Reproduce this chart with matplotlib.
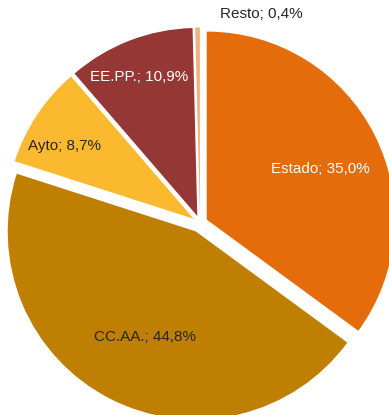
import numpy as np
import matplotlib
matplotlib.use('Agg')
import matplotlib.pyplot as plt

# share of each sector
categories = ['Estado', 'CC.AA.', 'Ayto', 'EE.PP.', 'Resto']
shares = [35.0, 44.8, 8.7, 10.9, 0.4]
colors = ['#E46C0A', '#BF7F02', '#FBB92F', '#953735', '#F2B07F']
text_colors = ['white', '#262626', '#262626', 'white', '#262626']

# label radius (fraction of pie radius) and angle shift in degrees
label_r = [0.66, 0.62, 0.79, 0.80, 1.12]
label_shift = [-3, 1.5, 4, 1.5, -17.6]

fig = plt.figure(figsize=(3.89, 4.15), dpi=100)
ax = fig.add_axes([0, 0, 1, 1])
wedges, _ = ax.pie(shares, colors=colors, startangle=90, counterclock=False,
                   explode=[0.04, 0.05, 0.04, 0.04, 0.04],
                   wedgeprops=dict(linewidth=0))

for w, cat, v, tc, r, sh in zip(wedges, categories, shares, text_colors, label_r, label_shift):
    mid = np.deg2rad((w.theta1 + w.theta2) / 2 + sh)
    cx, cy = w.center
    lbl = f'{cat}; ' + f'{v:.1f}'.replace('.', ',') + '%'
    ax.text(cx + r * np.cos(mid), cy + r * np.sin(mid), lbl,
            ha='center', va='center', color=tc, fontsize=11,
            family='Liberation Sans')

ax.set_xlim(-200 / 188, 189 / 188)
ax.set_ylim(-192 / 188, 223 / 188)
ax.set_aspect('auto')
ax.axis('off')

fig.savefig('out.png', dpi=100, facecolor='white')
